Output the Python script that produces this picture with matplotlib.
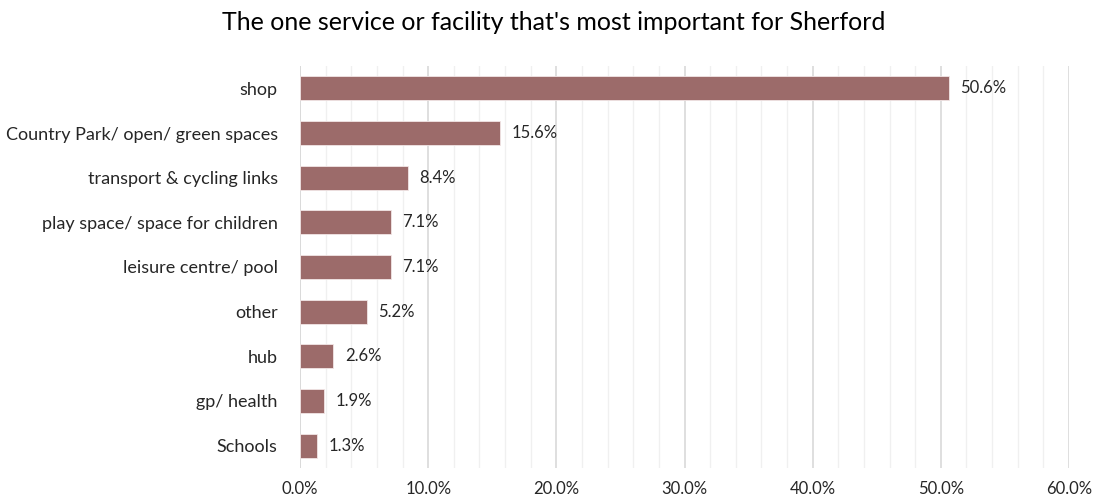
import matplotlib
matplotlib.use("Agg")
import matplotlib.pyplot as plt
import numpy as np
from matplotlib.ticker import MultipleLocator, PercentFormatter

categories = [
    "shop",
    "Country Park/ open/ green spaces",
    "transport & cycling links",
    "play space/ space for children",
    "leisure centre/ pool",
    "other",
    "hub",
    "gp/ health",
    "Schools",
]
shares = [50.6, 15.6, 8.4, 7.1, 7.1, 5.2, 2.6, 1.9, 1.3]

plt.rcParams["font.family"] = ["Lato", "DejaVu Sans"]

fig = plt.figure(figsize=(10.94, 4.99), dpi=100)
ax = fig.add_axes([300 / 1094, 31 / 499, 769 / 1094, 402 / 499])

y = np.arange(len(categories))
ax.barh(y, shares, height=0.54, color="#9c6b6a", edgecolor="#f2e6e6", linewidth=0.6, zorder=3)
for yi, v in zip(y, shares):
    ax.text(v + 0.9, yi, f"{v:.1f}%", va="center", ha="left", fontsize=12, color="#262626")

ax.set_xlim(0, 60)
ax.set_ylim(len(categories) - 0.5, -0.5)
ax.set_yticks(y)
ax.set_yticklabels(categories, fontsize=13, color="#262626")
ax.xaxis.set_major_locator(MultipleLocator(10))
ax.xaxis.set_minor_locator(MultipleLocator(2))
ax.xaxis.set_major_formatter(PercentFormatter(decimals=1))
ax.tick_params(axis="x", labelsize=12, labelcolor="#262626", length=0, which="both", pad=9)
ax.tick_params(axis="y", length=0, pad=16)

ax.grid(True, axis="x", which="major", color="#d9d9d9", linewidth=1.2, zorder=0)
ax.grid(True, axis="x", which="minor", color="#f0f0f0", linewidth=1.0, zorder=0)
for s in ax.spines.values():
    s.set_visible(False)
ax.axvline(0, color="#d9d9d9", linewidth=1.2, zorder=1)

fig.suptitle("The one service or facility that's most important for Sherford",
             x=554 / 1094, y=1 - 23 / 499, va="center", fontsize=18, color="#000000")

fig.savefig("out.png", dpi=100, facecolor="white")
